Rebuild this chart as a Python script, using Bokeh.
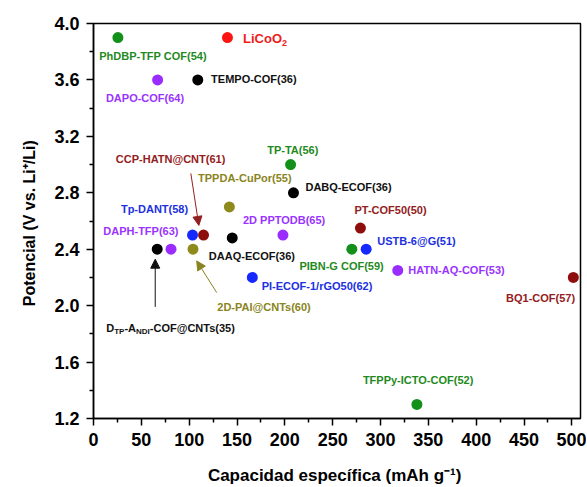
from bokeh.plotting import figure
from bokeh.models import Range1d, FixedTicker, ColumnDataSource, Arrow, NormalHead, PrintfTickFormatter
from bokeh.embed import file_html
from bokeh.resources import INLINE
from bokeh.core.properties import value

# ---------------- data ----------------
names = ["PhDBP-TFP COF(54)", "LiCoO2", "TEMPO-COF(36)", "DAPO-COF(64)", "TP-TA(56)",
         "DABQ-ECOF(36)", "TPPDA-CuPor(55)", "Tp-DANT(58)", "CCP-HATN@CNT(61)", "DAAQ-ECOF(36)",
         "2D PPTODB(65)", "DTP-ANDI-COF@CNTs(35)", "DAPH-TFP(63)", "2D-PAI@CNTs(60)",
         "PI-ECOF-1/rGO50(62)", "PT-COF50(50)", "PIBN-G COF(59)", "USTB-6@G(51)",
         "HATN-AQ-COF(53)", "BQ1-COF(57)", "TFPPy-ICTO-COF(52)"]
capacity = [25.5, 140, 109, 67, 206, 209, 142, 103.5, 115, 145, 198, 66.6, 81, 104,
            166, 279, 270, 285, 318, 501.5, 338]
potential = [3.90, 3.90, 3.60, 3.60, 3.00, 2.80, 2.70, 2.50, 2.50, 2.48, 2.50, 2.40, 2.40, 2.40,
             2.20, 2.55, 2.40, 2.40, 2.25, 2.20, 1.30]
group = ["green", "red", "black", "purple", "green", "black", "olive", "blue", "darkred", "black",
         "purple", "black", "purple", "olive", "blue", "darkred", "green", "blue", "purple",
         "darkred", "green"]
x_ticks = [0, 50, 100, 150, 200, 250, 300, 350, 400, 450, 500]
y_ticks = [1.2, 1.6, 2.0, 2.4, 2.8, 3.2, 3.6, 4.0]

# ---------------- style ----------------
dot_colors = {"green": "#12901a", "red": "#ff1414", "black": "#000000", "purple": "#9a2cff",
              "blue": "#1428ff", "darkred": "#8e0e0e", "olive": "#8f8a1c"}
txt_colors = {"green": "#1f8a22", "red": "#f01c1c", "black": "#111111", "purple": "#9a33ff",
              "blue": "#2030e0", "darkred": "#932020", "olive": "#8a8420"}
# label offsets in screen px (left edge of text, vertical middle) relative to the point
label_dx = [-18.7, 15.6, 13.3, -51.7, -23.4, 12, -31.3, -71.6, -87.7, -23.4, -40, -51,
            -67.7, 24.3, 9.4, -6, -52.4, 11, 10.6, -67.3, -54]
label_dy = [18.7, 1, -0.7, 18.3, -14.7, -5.6, -29, -26.4, -76.4, 18, -14.7, 78.4,
            -18.3, 57.7, 9, -17.7, 16.7, -8.3, -0.7, 20.3, -24]

FONT = "Liberation Sans"
X0, X1, Y0, Y1 = 0, 509, 1.2, 4.0
FW, FH = 487, 395
PXX = (X1 - X0) / FW
PXY = (Y1 - Y0) / FH

p = figure(frame_width=FW, frame_height=FH, x_range=Range1d(X0, X1), y_range=Range1d(Y0, Y1),
           output_backend="svg", toolbar_location=None,
           min_border_left=93, min_border_right=6, min_border_top=23, min_border_bottom=66)
p.background_fill_color = "white"
p.border_fill_color = "white"
p.outline_line_color = "black"
p.outline_line_width = 1.5
p.outline_line_alpha = 1
p.grid.visible = False

p.xaxis.ticker = FixedTicker(ticks=x_ticks, minor_ticks=[t + 25 for t in x_ticks[:-1]])
p.yaxis.ticker = FixedTicker(ticks=y_ticks, minor_ticks=[round(t + 0.2, 1) for t in y_ticks[:-1]])
p.yaxis.formatter = PrintfTickFormatter(format="%.1f")
for ax in (p.xaxis, p.yaxis):
    ax.axis_line_width = 1.5
    ax.axis_line_color = "black"
    ax.major_tick_line_width = 1.5
    ax.minor_tick_line_width = 1.5
    ax.major_tick_out = 7
    ax.major_tick_in = 0
    ax.minor_tick_out = 4
    ax.minor_tick_in = 0
    ax.major_label_text_font = FONT
    ax.major_label_text_font_style = "bold"
    ax.major_label_text_font_size = "18px"
    ax.major_label_text_color = "black"
    ax.axis_label_text_font = FONT
    ax.axis_label_text_font_style = "bold"
    ax.axis_label_text_color = "black"
p.xaxis.major_label_standoff = 7
p.yaxis.major_label_standoff = 7
p.xaxis.axis_label = "Capacidad específica  (mAh g\u207b\u00b9)"
p.xaxis.axis_label_text_font_size = "17px"
p.xaxis.axis_label_standoff = 17
p.yaxis.axis_label = "Potencial  (V vs. Li\u207a/Li)"
p.yaxis.axis_label_text_font_size = "16px"
p.yaxis.axis_label_standoff = 13

src = ColumnDataSource(dict(x=capacity, y=potential,
                            c=[dot_colors[g] for g in group],
                            tc=[txt_colors[g] for g in group],
                            name=names, dx=label_dx, dy=label_dy))
p.scatter("x", "y", source=src, size=11, fill_color="c", line_color="c", line_width=0)

# plain labels
special = {"LiCoO2", "DTP-ANDI-COF@CNTs(35)"}
idx = [i for i, n in enumerate(names) if n not in special]
plain = ColumnDataSource(dict(x=[capacity[i] for i in idx], y=[potential[i] for i in idx],
                              t=[names[i] for i in idx], tc=[txt_colors[group[i]] for i in idx],
                              dx=[label_dx[i] for i in idx], dy=[label_dy[i] for i in idx]))
p.text("x", "y", text="t", source=plain, x_offset="dx", y_offset="dy",
       text_color="tc", text_font=value(FONT), text_font_style="bold",
       text_font_size="11px", text_align="left", text_baseline="middle")

def rich(i, pieces):
    """pieces: (text, size_px, width_em, shift_px)"""
    xo = label_dx[i]
    for t, sz, wem, sh in pieces:
        p.text(x=[capacity[i]], y=[potential[i]], text=[t], x_offset=xo, y_offset=label_dy[i] + sh,
               text_color=txt_colors[group[i]], text_font=value(FONT), text_font_style="bold",
               text_font_size=f"{sz}px", text_align="left", text_baseline="middle")
        xo += sz * wem

i_li = names.index("LiCoO2")
rich(i_li, [("LiCoO", 13, 3.0, 0), ("2", 9, 0.556, 4)])
i_d = names.index("DTP-ANDI-COF@CNTs(35)")
rich(i_d, [("D", 11, 0.722, 0), ("TP", 8, 1.278, 4), ("-A", 11, 1.055, 0), ("NDI", 8, 1.722, 4),
           ("-COF@CNTs(35)", 11, 7.0, 0)])

# arrows: (index, start offset px, end offset px)
arrows = [(names.index("CCP-HATN@CNT(61)"), (-12.7, -61.7), (-4.7, -9.7)),
          (names.index("DTP-ANDI-COF@CNTs(35)"), (-2, 57.7), (-2, 10)),
          (names.index("2D-PAI@CNTs(60)"), (23.7, 43.4), (3.7, 11.7))]
for i, s, e in arrows:
    col = txt_colors[group[i]]
    p.add_layout(Arrow(x_start=capacity[i] + s[0] * PXX, y_start=potential[i] - s[1] * PXY,
                       x_end=capacity[i] + e[0] * PXX, y_end=potential[i] - e[1] * PXY,
                       line_color=col, line_width=1,
                       end=NormalHead(size=9, fill_color=col, line_color=col, line_width=1)))

open("out.html", "w").write(file_html(p, INLINE))
